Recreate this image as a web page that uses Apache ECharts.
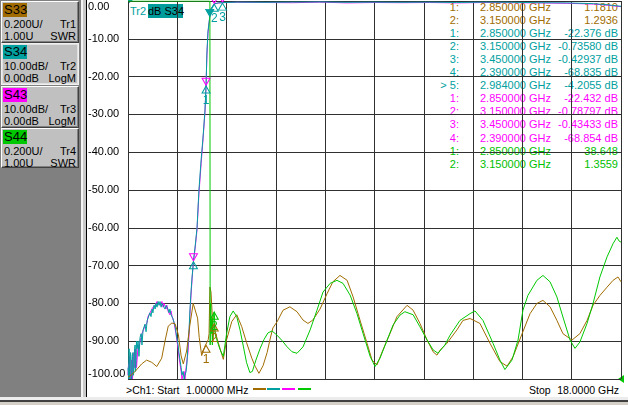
<!DOCTYPE html>
<html><head><meta charset="utf-8">
<script src="https://cdn.jsdelivr.net/npm/echarts@6/dist/echarts.min.js"></script>
<style>
html,body{margin:0;padding:0;width:628px;height:405px;overflow:hidden;background:#d4d0c8;font-family:"Liberation Sans",Arial,sans-serif;}
#panel{position:absolute;left:0;top:0;width:81px;height:397px;background:#808080;}
#sep1{position:absolute;left:81px;top:0;width:2px;height:397px;background:#f4f4f4;}
#sep2{position:absolute;left:83px;top:0;width:3px;height:397px;background:#c8c8c8;}
#sep3{position:absolute;left:86px;top:0;width:1px;height:397px;background:#000;}
#plotbg{position:absolute;left:87px;top:0;width:541px;height:397px;background:#fff;}
#bot1{position:absolute;left:0;top:397px;width:628px;height:3px;background:#ececec;}
#bot2{position:absolute;left:0;top:400px;width:628px;height:2px;background:#404040;}
#chart{position:absolute;left:0;top:0;width:628px;height:405px;}
.btn{position:absolute;left:1px;width:76px;background:#c0c0c0;border:1px solid;border-color:#fff #404040 #404040 #fff;box-shadow:inset -1px -1px #808080;font-size:11px;color:#000;}
.btn.active{border:1px solid #f0f0f0;box-shadow:inset 0 0 0 1px #e0e0e0;}
.hdr{position:absolute;left:1px;top:1px;width:23px;height:14px;line-height:14px;font-size:13px;padding-left:1px;}
.r1,.r2{position:absolute;left:2px;right:2px;height:12px;line-height:12px;}
.r1{top:16px}.r2{top:28px}
.r1 span,.r2 span{position:absolute;right:0;}
.mk{position:absolute;height:13px;line-height:13px;font-size:11px;white-space:nowrap;}
.bt{position:absolute;top:383px;font-size:10.5px;line-height:14px;color:#000;white-space:nowrap;}
.dash{position:absolute;top:388px;height:2px;}
</style>
</head><body>
<div id="panel"></div><div id="sep1"></div><div id="sep2"></div><div id="sep3"></div>
<div id="plotbg"></div><div id="bot1"></div><div id="bot2"></div>
<div id="btns"></div>
<div id="marks"></div>
<div class="bt" style="left:126px">&gt;Ch1: Start</div>
<div class="bt" style="left:186px">1.00000 MHz</div>
<div class="bt" style="left:529px">Stop</div>
<div class="bt" style="right:9px">18.0000 GHz</div>
<div class="dash" style="left:253px;width:13px;background:#a06c00"></div>
<div class="dash" style="left:267px;width:13px;background:#00a0a0"></div>
<div class="dash" style="left:282px;width:13px;background:#ff00ff"></div>
<div class="dash" style="left:298px;width:13px;background:#00c800"></div>
<div style="position:absolute;left:130px;top:4px;font-size:11px;line-height:14px;color:#00a0a0;white-space:nowrap">Tr2</div>
<div style="position:absolute;left:148px;top:4px;width:35px;height:14px;font-size:11px;line-height:14px;background:#009c9c;color:#000;text-align:center;white-space:nowrap">dB S34</div>
<div style="position:absolute;left:128px;top:0;width:0;height:0;border-top:4px solid #00a0a0;border-right:5px solid transparent"></div>
<div style="position:absolute;left:618px;top:375px;width:0;height:0;border-top:4px solid transparent;border-bottom:4px solid transparent;border-right:6px solid #00c800"></div>
<div id="chart"></div>
<script>
// ---- trace buttons ----
const traceNames = ['S33','S34','S43','S44'];
const traceColors = ['#a06c00','#00a0a0','#ff00ff','#00c800'];
const traceScale = ['0.200U/','10.00dB/','10.00dB/','0.200U/'];
const traceRef = ['1.00U','0.00dB','0.00dB','1.00U'];
const traceNo = ['Tr1','Tr2','Tr3','Tr4'];
const traceFormat = ['SWR','LogM','LogM','SWR'];

// ---- sweep (GHz) and transmission traces (dB) ----
const sweepFreq = [0.001,0.02,0.04,0.055,0.07,0.09,0.11,0.13,0.15,0.165,0.18,0.20,0.22,0.24,0.26,0.275,0.29,0.31,0.33,0.37,0.40,0.44,0.48,0.51,0.55,0.62,0.66,0.70,0.73,0.77,0.80,0.84,0.88,0.91,0.95,0.99,1.02,1.06,1.10,1.13,1.17,1.21,1.24,1.28,1.31,1.35,1.39,1.42,1.46,1.50,1.53,1.57,1.61,1.64,1.68,1.72,1.75,1.78,1.83,1.86,1.90,1.94,1.97,2.01,2.05,2.08,2.12,2.15,2.19,2.23,2.26,2.30,2.34,2.39,2.45,2.52,2.59,2.67,2.74,2.81,2.85,2.88,2.92,2.984,3.03,3.15,3.29,3.45,4,5,6,7,8,9,10,11,12,13,14,15,16,17,17.5,18];
const s34dB = [-97,-100,-92,-99,-100,-93,-94,-100,-99,-94,-93,-99,-97,-92,-91,-98,-96,-90,-92,-90,-94,-89,-88,-91,-87,-85.5,-87.5,-84.5,-84,-85,-82.5,-83.5,-81.5,-82.5,-80.5,-81.5,-80,-81,-79.5,-80.5,-79.5,-81,-80,-80.5,-79.5,-81.5,-80.5,-81,-81.5,-82.5,-81.5,-83,-82.5,-84,-84.5,-86,-87.5,-89,-91,-93,-95,-97,-99,-98,-100,-99,-98,-96,-91,-87,-82,-77,-73,-68.835,-65,-60,-50,-42,-36,-29,-22.376,-14,-8,-4.2055,-2.0,-0.7358,-0.5,-0.42937,-0.3,-0.35,-0.3,-0.25,-0.35,-0.3,-0.35,-0.3,-0.4,-0.3,-0.35,-0.45,-0.5,-0.7,-1.0,-1.4];
const s43dB = [-99,-96,-100,-94,-95,-100,-100,-95,-96,-100,-98,-94,-93,-97,-96,-92,-93,-97,-95,-91,-92,-90,-89,-88,-88.5,-86,-85.5,-85,-83.5,-84,-83,-82,-82.5,-81,-81.5,-80.5,-81,-79.5,-80,-79,-80.5,-80,-79.5,-81,-80,-80.5,-81.5,-80.5,-82,-81.5,-83,-82,-83.5,-83,-85,-85.5,-88,-88.5,-92,-94,-96,-98,-100,-99,-98,-100,-97,-97,-93,-88,-83,-78,-73.5,-68.854,-65.5,-60.5,-51,-43,-36.5,-29.5,-22.432,-14.5,-8.5,-4.4,-2.1,-0.78797,-0.55,-0.43433,-0.35,-0.4,-0.45,-0.3,-0.5,-0.4,-0.45,-0.4,-0.5,-0.4,-0.45,-0.5,-0.6,-0.8,-1.1,-1.5];

// ---- reflection traces (SWR) ----
const s33Freq = [0.001,0.11,0.26,0.50,0.68,0.87,1.05,1.23,1.35,1.47,1.60,1.72,1.84,1.94,2.02,2.14,2.26,2.38,2.45,2.54,2.60,2.69,2.81,2.85,2.93,2.96,2.99,3.03,3.08,3.10,3.15,3.18,3.30,3.48,3.60,3.79,3.97,4.15,4.33,4.52,4.64,4.78,4.93,5.08,5.18,5.29,5.44,5.66,5.91,6.17,6.39,6.57,6.75,7.01,7.27,7.48,7.74,8.00,8.22,8.47,8.73,8.91,9.09,9.31,9.57,9.82,10.19,10.41,10.66,10.92,11.14,11.28,11.39,11.65,12.01,12.23,12.49,12.85,13.22,13.58,13.84,14.06,14.39,14.68,14.93,15.15,15.41,15.66,15.88,16.21,16.50,16.76,16.98,17.23,17.49,17.71,17.89,18.0];
const s33Swr = [1.010,1.020,1.040,1.080,1.100,1.088,1.066,1.110,1.200,1.280,1.296,1.292,1.234,1.122,1.080,1.148,1.286,1.400,1.408,1.322,1.220,1.124,1.174,1.1810,1.208,1.240,1.486,1.460,1.330,1.200,1.2936,1.252,1.190,1.104,1.208,1.304,1.340,1.278,1.192,1.110,1.068,1.030,1.070,1.140,1.206,1.270,1.302,1.364,1.382,1.356,1.312,1.294,1.312,1.370,1.452,1.514,1.548,1.522,1.434,1.312,1.188,1.100,1.074,1.154,1.242,1.330,1.390,1.364,1.294,1.206,1.144,1.126,1.152,1.190,1.260,1.310,1.320,1.294,1.188,1.092,1.068,1.118,1.240,1.346,1.400,1.416,1.382,1.310,1.240,1.206,1.240,1.310,1.390,1.442,1.486,1.522,1.540,1.514];
const s44Freq = [0.001,1.0,2.0,2.85,2.99,3.00,3.02,3.04,3.06,3.08,3.10,3.12,3.15,3.18,3.24,3.36,3.48,3.60,3.72,3.84,3.97,4.09,4.21,4.33,4.45,4.54,4.67,4.82,4.97,5.11,5.26,5.44,5.62,5.81,5.99,6.17,6.39,6.65,6.90,7.12,7.38,7.63,7.85,8.11,8.36,8.58,8.84,9.02,9.20,9.46,9.68,9.93,10.11,10.41,10.66,10.92,11.14,11.32,11.57,11.76,12.12,12.49,12.67,12.96,13.33,13.58,13.76,14.02,14.24,14.42,14.60,14.93,15.15,15.41,15.66,15.88,16.14,16.32,16.50,16.76,16.98,17.23,17.49,17.71,17.85,17.93,18.0];
const s44Swr = [3.0,3.0,3.0,38.648,3.0,1.18,1.40,1.24,1.32,1.18,1.28,1.34,1.3559,1.24,1.208,1.156,1.12,1.24,1.33,1.36,1.33,1.26,1.174,1.086,1.034,1.04,1.10,1.16,1.21,1.244,1.254,1.232,1.204,1.17,1.144,1.136,1.17,1.26,1.364,1.46,1.506,1.522,1.506,1.444,1.346,1.242,1.12,1.066,1.11,1.206,1.286,1.338,1.356,1.34,1.276,1.206,1.154,1.136,1.18,1.232,1.31,1.346,1.36,1.31,1.188,1.10,1.05,1.10,1.206,1.364,1.442,1.522,1.548,1.514,1.434,1.328,1.206,1.162,1.196,1.294,1.40,1.54,1.646,1.716,1.75,1.73,1.724];

// ---- marker table ----
const markerTrace = [0,0,1,1,1,1,1,2,2,2,2,3,3];
const markerLabel = ['1:','2:','1:','2:','3:','4:','> 5:','1:','2:','3:','4:','1:','2:'];
const markerFreq = [2.85,3.15,2.85,3.15,3.45,2.39,2.984,2.85,3.15,3.45,2.39,2.85,3.15];
const markerFreqText = ['2.850000 GHz','3.150000 GHz','2.850000 GHz','3.150000 GHz','3.450000 GHz','2.390000 GHz','2.984000 GHz','2.850000 GHz','3.150000 GHz','3.450000 GHz','2.390000 GHz','2.850000 GHz','3.150000 GHz'];
const markerValueText = ['1.1810','1.2936','-22.376 dB','-0.73580 dB','-0.42937 dB','-68.835 dB','-4.2055 dB','-22.432 dB','-0.78797 dB','-0.43433 dB','-68.854 dB','38.648','1.3559'];

// ---- axis ----
const freqMin = 0, freqMax = 18, freqDiv = 1.8;
const dbMin = -100, dbMax = 0, dbDiv = 10;
const swrRef = 1.0, swrPerDiv = 0.2;

// build buttons
const btnTops = [1,43,86,128], btnH = [40,40,40,38];
let bh = '';
traceNames.forEach((n,i)=>{
  bh += `<div class="btn${i===1?' active':''}" style="top:${btnTops[i]}px;height:${btnH[i]}px">`+
    `<div class="hdr" style="background:${traceColors[i]}">${n}</div>`+
    `<div class="r1">${traceScale[i]}<span>${traceNo[i]}</span></div>`+
    `<div class="r2">${traceRef[i]}<span>${traceFormat[i]}</span></div></div>`;
});
document.getElementById('btns').innerHTML = bh;

// marker table
const mColors = ['#a06c00','#00a0a0','#ff00ff','#00c000'];
let mh = '';
markerLabel.forEach((l,i)=>{
  const top = 1 + i*13.05, c = mColors[markerTrace[i]];
  mh += `<div class="mk" style="top:${top}px;right:${628-459}px;color:${c}">${l}</div>`+
        `<div class="mk" style="top:${top}px;left:480px;color:${c}">${markerFreqText[i]}</div>`+
        `<div class="mk" style="top:${top}px;right:${628-618}px;color:${c}">${markerValueText[i]}</div>`;
});
document.getElementById('marks').innerHTML = mh;

const swrToGrid = v => Math.min(dbMax, dbMin + (v - swrRef) / swrPerDiv * dbDiv);
const pairs = (f, v) => f.map((x,i)=>[x, v[i]]);

function markers(trace, conv, opts) {
  const out = [];
  markerTrace.forEach((t,i)=>{
    if (t !== trace) return;
    const val = conv(parseFloat(markerValueText[i]));
    if (val >= dbMax) return;
    const num = markerLabel[i].replace(/[^0-9]/g,'');
    const active = markerLabel[i].indexOf('>') >= 0;
    out.push(Object.assign({coord:[markerFreq[i], val], name:num},
      active ? {symbolRotate:180, symbolOffset:[0,-4], itemStyle:{color:mColors[trace]}, label:{show:false}} :
      (opts.hide && opts.hide.indexOf(num)>=0 ? {label:{show:false}} : {})));
  });
  return {
    symbol:'triangle', symbolSize:[8,7], symbolOffset:[0,opts.down?-4:4], symbolRotate: opts.down?180:0,
    silent:true, animation:false,
    itemStyle:{color:'rgba(255,255,255,0)', borderColor:mColors[trace], borderWidth:1},
    label:{show:!opts.noLabel, position:'bottom', distance:1, formatter:'{b}', color:mColors[trace], fontSize:12, fontFamily:'Liberation Sans'},
    data: out
  };
}

const chart = echarts.init(document.getElementById('chart'), null, {renderer:'canvas'});
const lineBase = {type:'line', showSymbol:false, symbol:'none', animation:false, silent:true};
chart.setOption({
  animation:false,
  grid:{left:128, right:7, top:1, bottom:26, containLabel:false},
  xAxis:{type:'value', min:freqMin, max:freqMax, interval:freqDiv,
    axisLabel:{show:false}, axisTick:{show:false}, axisLine:{show:false},
    splitLine:{show:true, lineStyle:{color:'#303030', width:1}}},
  yAxis:{type:'value', min:dbMin, max:dbMax, interval:dbDiv,
    axisTick:{show:false}, axisLine:{show:false},
    splitLine:{show:true, lineStyle:{color:'#303030', width:1}},
    axisLabel:{align:'left', margin:40, color:'#000', fontSize:11, fontFamily:'Liberation Sans',
      formatter: v => v.toFixed(2), verticalAlignMaxLabel:'top', verticalAlignMinLabel:'bottom'}},
  series:[
    Object.assign({}, lineBase, {name:'S43', data:pairs(sweepFreq, s43dB), lineStyle:{color:'#ff00ff', width:1},
      markPoint: markers(2, v=>v, {down:true, noLabel:true})}),
    Object.assign({}, lineBase, {name:'S34', data:pairs(sweepFreq, s34dB), lineStyle:{color:'#00a0a0', width:1},
      markPoint: markers(1, v=>v, {hide:['4']})}),
    Object.assign({}, lineBase, {name:'S33', data:pairs(s33Freq, s33Swr.map(swrToGrid)), lineStyle:{color:'#a06c00', width:1},
      markPoint: markers(0, swrToGrid, {})}),
    Object.assign({}, lineBase, {name:'S44', data:pairs(s44Freq, s44Swr.map(swrToGrid)), lineStyle:{color:'#00c800', width:1},
      markPoint: markers(3, swrToGrid, {})})
  ]
});
</script>
</body></html>
